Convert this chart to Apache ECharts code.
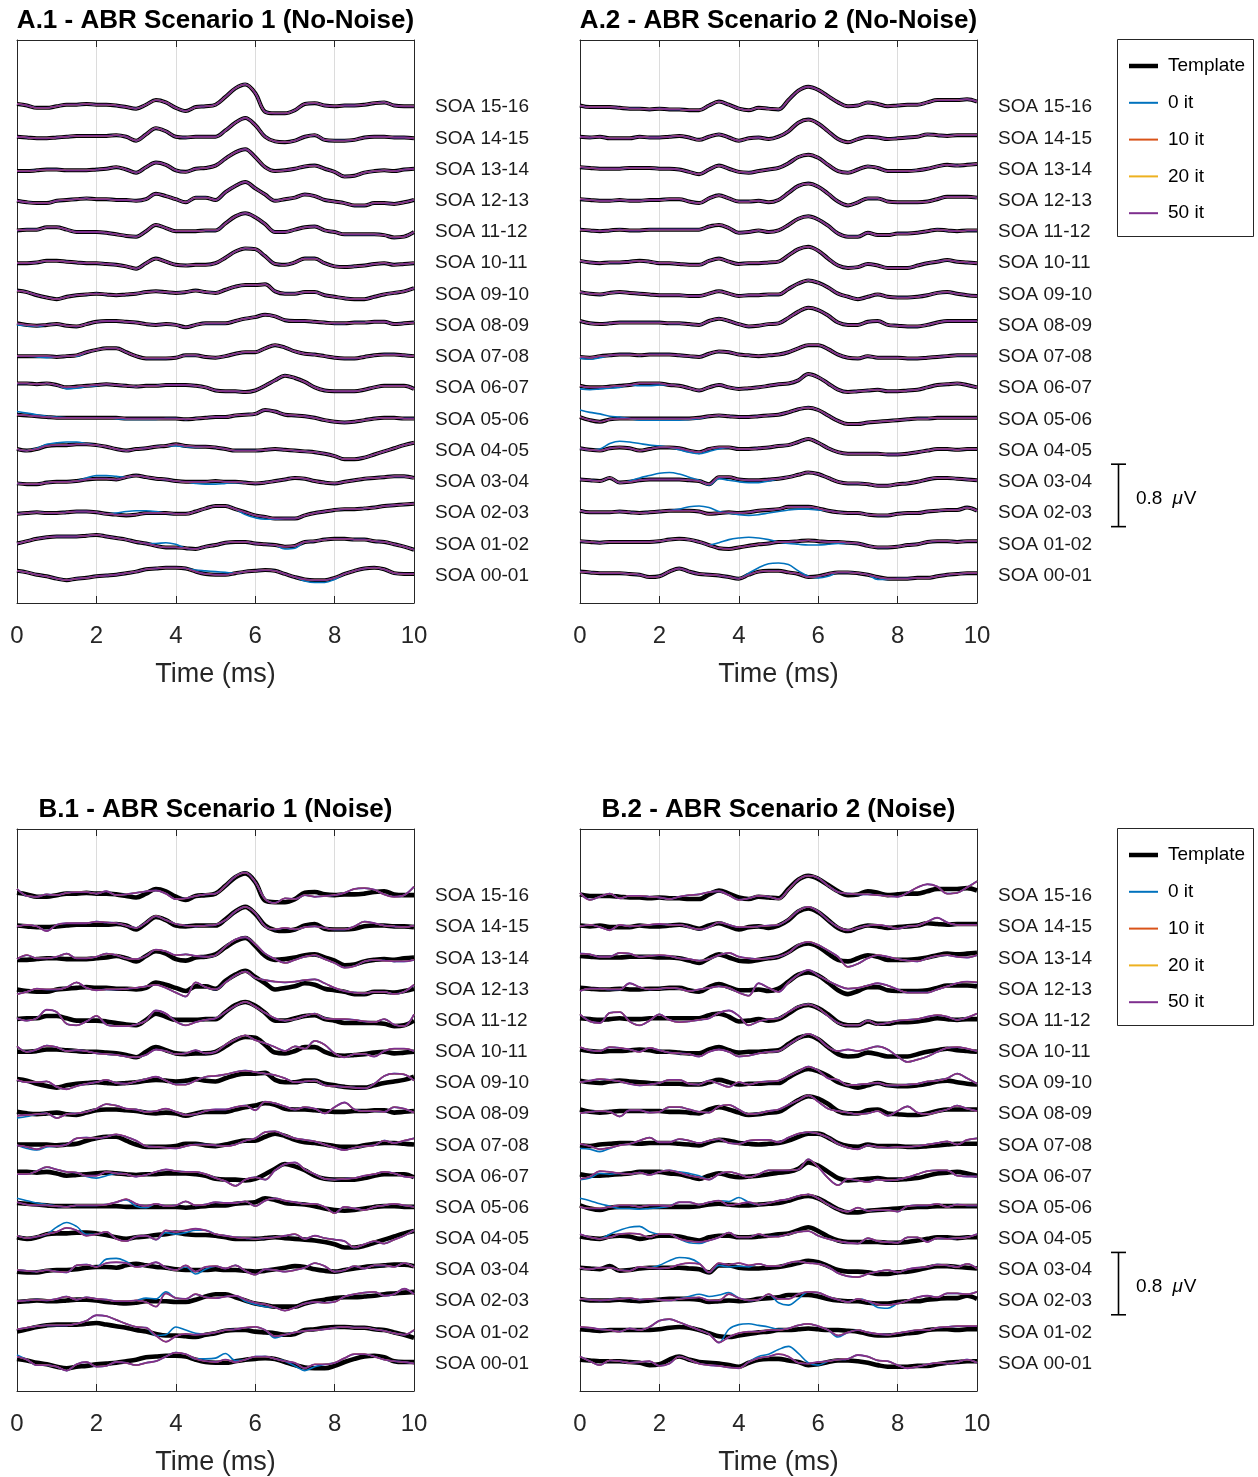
<!DOCTYPE html>
<html><head><meta charset="utf-8">
<script src="https://cdn.jsdelivr.net/npm/echarts/dist/echarts.min.js"></script>
<style>html,body{margin:0;padding:0;background:#fff}#c{width:1258px;height:1477px}</style>
</head><body><div id="c"></div>
<script>
// ---------------- DATA ----------------
// sample times (ms)
const times = [0,0.25,0.5,0.75,1,1.25,1.5,1.75,2,2.25,2.5,2.75,3,3.25,3.5,3.75,4,4.25,4.5,4.75,5,5.25,5.5,5.75,6,6.25,6.5,6.75,7,7.25,7.5,7.75,8,8.25,8.5,8.75,9,9.25,9.5,9.75,10];
const soaLabels = ['SOA 00-01','SOA 01-02','SOA 02-03','SOA 03-04','SOA 04-05','SOA 05-06','SOA 06-07','SOA 07-08','SOA 08-09','SOA 09-10','SOA 10-11','SOA 11-12','SOA 12-13','SOA 13-14','SOA 14-15','SOA 15-16'];
const traceStep = 0.4;      // µV vertical offset between SOA traces
const yMin = -0.352, yMax = 6.859; // µV range of each panel
const scaleBarFrom = 0.626; // µV
const scaleBarSpan = 0.8;   // µV
const seriesNames = ['Template','0 it','10 it','20 it','50 it'];

// waveform values in 1/100 µV, index = SOA (0 = 00-01)
const tmplS1 = [
[6,4,1,-1,-4,-6,-4,-3,-1,0,1,3,5,8,9,10,10,9,5,2,1,1,3,5,6,7,6,2,-2,-5,-6,-6,-3,2,6,9,10,8,3,2,2],
[1,4,7,9,10,10,10,11,12,10,8,6,3,1,-2,-4,-4,-5,-6,-3,-1,2,3,3,1,0,-1,-3,-2,3,4,6,7,7,6,6,4,3,0,-3,-7],
[-1,0,1,0,0,1,2,2,1,-1,-2,-3,-2,0,0,0,-1,-1,2,6,9,9,5,1,-3,-5,-7,-7,-7,-3,0,2,4,5,5,6,7,9,10,11,12],
[-2,-3,-3,-1,0,0,1,3,4,4,3,6,8,6,4,3,1,0,0,0,1,0,0,-1,-2,-1,1,3,5,4,1,-1,-2,0,2,4,5,6,7,7,5],
[2,0,2,6,7,7,8,8,7,5,2,0,2,3,5,6,8,6,5,5,4,2,0,0,0,1,2,1,0,-1,-2,-4,-7,-11,-11,-9,-5,-1,3,7,10],
[6,5,4,3,2,2,2,2,2,2,2,1,1,1,1,1,1,0,1,2,3,3,5,6,7,12,10,6,5,4,2,-1,-3,-4,-3,-1,1,2,2,1,1],
[6,6,5,6,4,1,2,3,4,5,4,3,2,3,3,4,4,4,3,1,-3,-4,-4,-5,-3,3,10,16,13,8,1,-3,-4,-4,-4,-2,1,3,3,3,-1],
[1,1,1,1,0,1,2,6,9,11,11,6,1,-2,-2,-2,-1,2,2,0,-1,1,4,6,6,11,15,12,7,4,3,1,-1,-2,-2,0,2,3,3,2,1],
[3,1,0,1,2,0,-1,2,5,6,6,5,4,2,1,2,1,-2,1,3,3,3,6,9,11,14,12,7,6,6,5,4,3,3,4,4,5,5,2,3,4],
[5,3,-1,-4,-6,-3,-1,0,1,0,-1,0,1,3,4,3,2,3,5,3,2,6,10,12,12,13,4,1,1,3,3,-1,-3,-5,-6,-6,-3,0,2,4,8],
[0,0,1,3,3,2,1,0,0,-1,-2,-4,-7,0,6,2,-2,-3,-2,-2,0,7,15,19,18,9,-1,-2,1,6,6,0,-4,-5,-4,-3,-1,0,-2,-1,0],
[2,3,3,6,6,3,0,0,0,-1,-3,-5,-6,1,9,5,1,1,1,2,2,11,20,24,19,10,0,0,3,6,7,2,0,-3,-3,-3,-3,-4,-7,-6,0],
[0,-2,-3,-3,0,1,2,3,2,2,1,1,0,2,9,6,2,-2,4,4,1,11,19,24,16,8,0,2,4,8,6,1,-1,-3,-6,-6,-3,-3,-4,-2,1],
[-2,-2,-1,0,0,-1,-1,-1,0,1,3,0,-4,3,9,6,-1,-3,1,2,5,14,22,26,16,3,-2,-1,1,4,5,1,-3,-9,-8,-4,-2,-1,-2,0,1],
[2,1,0,0,1,2,3,3,3,3,4,2,-3,5,13,9,2,1,2,2,2,10,20,26,17,2,-4,-5,-3,2,4,-2,-3,-3,-2,1,2,2,1,1,0],
[4,2,-1,-1,1,3,3,4,3,3,2,0,-2,3,9,6,-1,-5,0,1,3,13,24,29,18,-6,-8,-8,-4,4,5,2,1,2,2,3,5,6,2,1,1]
];
const tmplS2 = [
[5,4,3,3,3,2,1,-2,-1,5,9,5,2,1,0,-2,-4,1,5,6,6,4,2,-2,-1,2,4,4,3,1,-2,-4,-4,-4,-3,-3,-1,1,2,3,3],
[4,3,2,3,3,3,3,3,4,6,7,6,3,-1,-5,-6,-4,-2,0,1,3,3,4,5,4,3,3,2,1,-2,-4,-4,-3,-1,0,3,4,4,3,4,4],
[3,1,1,1,2,1,0,1,2,3,3,3,2,-1,0,1,0,1,3,4,5,8,8,8,6,3,1,0,0,-2,-3,-3,-1,0,0,2,3,4,4,7,3],
[3,2,1,5,-1,0,2,3,3,3,3,2,1,-3,6,6,3,2,2,3,4,6,9,12,10,5,0,-2,-2,-3,-5,-5,-3,-2,0,3,5,5,4,3,2],
[3,1,0,3,4,3,0,2,4,4,3,0,-2,2,4,4,2,2,3,4,6,7,11,15,10,3,-2,-4,-4,-4,-4,-5,-5,-4,-2,0,2,2,1,2,2],
[3,-1,-3,0,1,1,1,1,1,1,1,1,2,4,5,4,3,3,4,5,6,9,13,15,12,5,-2,-6,-6,-4,-3,-2,-1,0,1,1,2,2,2,2,2],
[3,1,1,2,3,4,6,6,6,4,3,0,-3,1,4,1,-1,0,1,3,5,6,10,18,14,6,-2,-5,-4,-3,-2,-4,-4,-3,-2,1,4,5,6,4,1],
[0,-1,1,2,3,3,2,3,3,3,2,1,0,4,7,6,3,2,1,2,3,6,11,15,15,10,3,-1,-2,1,-1,-1,-1,-2,-2,-1,0,1,2,2,2],
[6,3,2,3,4,4,4,4,4,3,3,2,1,6,9,6,2,-1,0,2,3,10,18,23,20,13,4,1,1,5,6,1,0,-1,-1,1,4,6,6,6,6],
[3,1,0,2,3,2,1,0,-1,-1,-1,-2,-2,1,4,1,-2,-1,-1,0,0,7,14,18,15,9,1,-3,-6,-3,0,-3,-4,-4,-3,-1,2,3,1,-1,-2],
[3,1,0,1,1,2,3,2,0,0,-1,-2,-2,3,6,2,-1,0,0,1,2,10,18,21,16,6,-3,-6,-5,-1,-3,-6,-6,-6,-3,0,2,4,2,1,0],
[3,2,1,2,3,2,2,3,3,3,3,3,3,7,9,5,-1,0,2,0,2,9,17,20,16,8,-2,-6,-6,-1,-4,-4,-2,-2,-1,1,3,2,1,2,2],
[2,1,0,0,1,0,0,1,1,2,2,-1,-3,3,7,3,-1,-1,0,-2,1,10,19,22,18,9,-1,-6,-2,3,3,-1,-2,-2,-2,-1,2,5,5,5,4],
[3,2,1,1,1,2,2,2,1,1,0,-3,-6,0,5,1,-3,-4,-2,0,2,8,16,19,15,6,-2,-4,0,4,2,-2,-2,-2,-1,1,4,6,5,6,7],
[2,1,2,0,0,0,2,1,1,2,3,1,-2,2,5,1,-3,0,1,-1,2,9,20,24,19,9,-1,-5,-1,2,1,-1,0,1,2,5,4,3,4,4,4],
[2,0,0,0,-1,-2,-2,-3,-2,-3,-3,-4,-4,2,7,3,-2,-4,-1,-2,-3,9,21,26,22,14,6,1,2,6,4,1,2,3,3,6,9,9,9,10,7]
];
const noiseS1 = [
[9,5,-2,-2,-4,-9,-1,2,-4,-3,2,1,-2,1,3,9,14,12,6,3,2,5,2,5,9,9,6,3,1,-6,-1,-1,1,7,12,12,9,5,3,2,0],
[4,6,8,9,9,9,11,15,22,21,16,11,7,6,-4,-12,-5,-2,-3,-2,0,3,4,6,7,3,-5,-3,0,2,3,4,6,7,6,6,4,2,-1,-3,3],
[0,1,2,1,3,6,2,5,3,2,0,0,1,-1,-7,10,4,3,9,5,4,6,7,2,-2,-4,-8,-12,-8,-3,-1,-2,-1,6,9,11,12,7,9,16,9],
[0,-1,-2,0,-2,-3,6,7,4,9,10,9,4,6,10,3,0,6,-2,4,5,2,6,-1,-6,1,0,-2,0,3,9,5,-2,0,5,2,6,6,4,9,4],
[4,1,3,6,9,14,11,4,6,9,0,-3,3,4,-1,11,9,11,13,11,6,4,2,1,0,1,2,4,6,0,4,1,-1,-3,-11,-7,-3,-6,-1,4,11],
[7,4,3,3,2,1,3,3,3,4,7,11,5,2,5,2,3,8,3,4,7,6,6,8,2,9,12,9,7,5,5,1,-7,1,-1,-3,1,3,5,3,1],
[3,3,7,12,9,6,5,1,1,6,4,3,0,2,6,9,7,6,6,3,-2,-6,-12,-4,-1,-4,8,16,18,9,3,-3,-4,-3,-2,1,3,6,4,0,-1],
[0,-2,-5,-1,-1,1,9,10,9,11,14,11,6,-1,-2,-3,-4,-1,1,1,0,-1,1,6,9,17,18,13,9,7,5,1,-3,-6,-3,-1,0,6,3,6,9],
[-2,-1,0,1,-5,0,1,3,7,13,11,7,6,3,4,7,3,-1,0,4,6,6,9,11,5,16,14,10,6,9,7,1,9,15,6,4,4,3,9,7,2],
[4,1,1,2,-5,-8,-4,-1,1,4,0,-1,2,5,8,3,-2,-2,3,8,9,11,14,16,14,12,10,6,1,2,3,-3,-4,-5,-6,-7,-1,9,12,11,3],
[7,0,3,8,6,1,2,1,-2,-3,-4,-6,-7,-4,3,1,-3,-2,2,-2,0,9,16,21,15,11,6,1,7,4,14,9,-2,-7,-3,-3,-6,1,4,4,1],
[3,0,3,14,11,-4,-6,-1,6,-5,-7,-7,-5,0,13,9,-1,-6,-2,1,3,11,19,24,18,10,3,0,2,6,9,3,2,2,1,-1,-2,2,-5,-7,8],
[-6,-3,1,0,0,3,9,2,-1,0,0,1,2,4,6,2,-4,-9,9,3,0,9,18,23,15,12,10,9,10,12,13,8,2,-2,-4,-5,-3,-3,-6,-3,6],
[-1,4,0,0,2,6,0,0,2,6,4,0,-1,3,11,9,4,5,3,2,4,15,24,27,18,6,-1,-6,-2,2,4,-1,-6,-12,-10,-4,-2,-3,-4,-4,-2],
[1,3,1,-5,3,5,5,5,7,6,5,2,-1,6,14,9,4,2,1,2,3,9,20,26,18,1,-3,-1,-3,0,1,-1,-3,-3,1,7,5,2,1,0,2],
[9,0,-1,2,1,4,5,5,3,6,1,2,4,6,7,3,-4,-3,0,2,3,13,25,30,18,-4,-9,-3,-4,1,-1,0,1,4,9,10,8,2,-1,1,12]
];
const noiseS2 = [
[9,3,-2,4,3,1,2,3,-3,0,9,5,0,-2,-3,-5,-6,2,7,9,12,9,1,0,2,3,5,6,11,9,4,3,-2,-6,-4,-1,1,0,2,5,1],
[7,6,4,3,1,5,3,7,15,17,13,8,3,-2,-13,-6,-1,1,1,3,3,5,9,11,8,3,-4,0,3,0,-2,-3,-1,1,3,3,6,7,8,8,8],
[3,2,1,2,3,4,2,3,2,1,3,4,5,1,1,9,4,1,2,9,3,3,9,12,11,6,2,-1,3,0,-4,-5,-3,1,5,7,5,10,10,9,12],
[3,1,3,3,0,-1,4,3,2,3,7,9,8,-3,9,7,9,6,8,5,5,9,11,9,8,4,-4,-8,-9,-5,-2,0,-3,1,3,4,7,6,4,8,2],
[6,2,0,2,6,7,6,2,6,6,0,-3,-4,-2,2,8,2,2,6,3,3,6,9,10,4,0,-3,-5,-6,1,-3,-4,-5,2,2,-4,1,0,1,2,6],
[1,-1,-1,1,3,3,1,3,3,2,7,7,4,7,9,3,5,7,4,6,9,11,15,17,12,4,-2,-5,0,-4,-3,-3,-5,2,3,3,5,1,4,3,3],
[-3,0,7,6,4,3,5,2,6,8,5,1,-1,-4,3,6,3,-1,3,8,8,8,9,22,12,-2,-11,-3,-5,-7,-4,-5,-4,-1,3,7,8,8,1,0,0],
[2,-1,-5,-3,0,2,6,10,4,4,8,6,3,6,8,3,2,6,7,7,4,10,15,17,15,10,2,-3,-5,0,-2,-3,-2,-2,-1,1,3,5,1,7,9],
[1,3,4,3,-3,5,5,2,3,9,9,6,3,2,10,12,6,0,1,4,6,12,18,24,16,7,4,2,0,1,4,-2,4,10,2,0,3,6,11,7,4],
[1,3,5,4,2,-1,-3,-2,0,4,4,-1,-2,3,-1,-5,1,-2,1,2,3,9,15,21,16,6,4,-3,-2,-1,0,-3,-3,-2,-1,2,3,6,12,6,-1],
[6,2,1,6,5,3,0,5,2,-1,-2,-3,-6,0,3,0,-6,-5,-2,0,1,9,17,23,17,6,1,3,1,4,7,3,-6,-13,-10,-6,0,5,6,4,1],
[8,-1,-3,10,11,-1,-6,0,8,1,-2,-1,1,3,10,13,6,-6,-1,2,3,11,18,21,16,6,-3,-6,-6,0,-5,-3,0,1,2,5,7,5,1,4,9],
[-2,1,1,0,0,8,3,0,1,2,1,-2,0,2,4,2,-4,-8,8,2,-3,9,19,25,18,11,5,1,2,5,8,5,0,-4,-4,-4,0,4,8,10,9],
[6,5,2,2,7,6,2,3,4,3,0,-1,-3,-1,4,7,2,0,-1,0,2,7,17,21,17,10,2,-11,-7,0,4,2,-1,-3,-4,0,3,4,2,1,4],
[1,3,0,-4,3,1,2,3,4,3,3,0,-3,0,6,3,0,0,1,2,3,10,21,26,20,9,0,-4,-1,2,3,1,-2,1,2,7,12,6,3,3,3],
[4,-5,-1,3,-3,0,0,-1,-2,-4,-1,1,2,5,6,1,-5,-3,0,-1,-4,8,21,26,23,13,5,3,2,2,1,0,-1,4,11,15,12,3,4,11,19]
];
// "0 it" segments that differ from the converged traces: {soa: [[startSampleIndex, values...], ...]}
const it0DiffA1 = {0:[[18,7,6,5,4,3],[29,-7,-9,-9,-5]],1:[[14,1,2,0],[27,-6,-5]],2:[[10,0,2,3,3,2],[23,-2,-6,-8,-8]],3:[[7,5,8,8,7,6],[18,-2,-3,-3,-2,-1]],4:[[2,3,8,10,11,11,9],[16,6,5,4]],5:[[0,10,8,6,4,3],[10,1,0,0,0,0]],6:[[5,-1,0,2,3]],7:[[2,0,-1,0,1,1]],8:[[0,1,0,-1]]};
const it0DiffA2 = {0:[[17,3,10,15,16,14,6,-1,-3,-1],[30,-5,-5]],1:[[13,-1,2,6,8,9,8,6,3,1,0,-1,-1,0,1,1]],2:[[9,3,5,8,9,7,2,0,-2,-3,-2,0,2,4,5,5,4]],3:[[5,1,5,8,11,12,10,6,2,-4,4,2,0,-1,-1,1]],4:[[2,2,9,12,11,9,7,6,4,1,-2,-4,-1,2]],5:[[0,12,9,7,4,3,1,-1,-1,-1,-1,-1,0,1]],6:[[0,-1,-2,-1,0,1],[6,3,3,4]],7:[[0,-2,-3,-1]]};
const it0DiffB1 = {0:[[0,11],[19,6,7,13,4],[28,-3,-9,-4]],1:[[15,-3,7,3,-1],[26,-7]],2:[[13,4,3,12],[23,0,-4,-7]],3:[[9,14,15,11],[17,4,-5,1]],4:[[4,15,21,16,6],[15,8,6,8,11]],5:[[0,12,9,6,4],[11,10,2,0]],6:[[7,0,-2,1]],7:[[1,-4,-6,-2]],8:[[0,-5,-3,0]]};
const it0DiffB2 = {0:[[18,9,12,18,22,13,1,-2]],1:[[15,4,10,11,9,7,4],[26,-6]],2:[[11,6,9,6,8,11],[20,-2,-5,3],[30,-8,-9]],3:[[8,6,12,16,15,9],[14,6,4,5,4]],4:[[3,6,11,15,16,9],[11,-5,-6]],5:[[0,12,9,5,2,-1,-1,-2,-1,0],[14,9,8,13,7]],6:[[0,-4,-2,4,3],[10,6,4,1]],7:[[0,-4,-5,-8,-4]]};

// ---------------- CHART ----------------
const FONT = '"Liberation Sans", Arial, Helvetica, sans-serif';
const AX = '#262626';
const colors = {'Template':'#000000','0 it':'#0072BD','10 it':'#D95319','20 it':'#EDB120','50 it':'#7E2F8E'};
const widths = {'0 it':1.6,'10 it':1.2,'20 it':1.2,'50 it':1.8};

const panels = [
  {title:'A.1 - ABR Scenario 1 (No-Noise)', tmpl:tmplS1, rec:tmplS1, diff:it0DiffA1, tw:4},
  {title:'A.2 - ABR Scenario 2 (No-Noise)', tmpl:tmplS2, rec:tmplS2, diff:it0DiffA2, tw:4},
  {title:'B.1 - ABR Scenario 1 (Noise)',    tmpl:tmplS1, rec:noiseS1, diff:it0DiffB1, tw:4.6},
  {title:'B.2 - ABR Scenario 2 (Noise)',    tmpl:tmplS2, rec:noiseS2, diff:it0DiffB2, tw:4.6}
];
const grids = [
  {left:17, top:40, width:397, height:563},
  {left:580, top:40, width:397, height:563},
  {left:17, top:829, width:397, height:563},
  {left:580, top:829, width:397, height:563}
];

function pts(vals, k){ return times.map((t,i)=>[t, k*traceStep + vals[i]/100]); }
function withDiff(vals, segs){
  const out = vals.slice();
  (segs||[]).forEach(s=>{ for(let j=1;j<s.length;j++) out[s[0]+j-1] = s[j]; });
  return out;
}
const labelValues = soaLabels.map((_,k)=>k*traceStep);

const xAxis = [], yAxis = [], series = [];
grids.forEach((g,p)=>{
  xAxis.push({type:'value', gridIndex:p, min:0, max:10, interval:2, position:'bottom',
    axisLine:{show:true, onZero:false, lineStyle:{color:AX, width:1}},
    axisTick:{show:true, inside:true, length:7, lineStyle:{color:AX}},
    axisLabel:{show:true, fontSize:24, color:AX, fontFamily:FONT, margin:21},
    splitLine:{show:true, lineStyle:{color:'#dcdcdc', width:1}},
    name:'Time (ms)', nameLocation:'middle', nameGap:58,
    nameTextStyle:{fontSize:27, color:AX, fontFamily:FONT}});
  xAxis.push({type:'value', gridIndex:p, min:0, max:10, interval:2, position:'top',
    axisLine:{show:true, onZero:false, lineStyle:{color:AX, width:1}},
    axisTick:{show:true, inside:true, length:7, lineStyle:{color:AX}},
    axisLabel:{show:false}, splitLine:{show:false}});
  yAxis.push({type:'value', gridIndex:p, min:yMin, max:yMax, position:'right',
    axisLine:{show:true, onZero:false, lineStyle:{color:AX, width:1}},
    axisTick:{show:false}, splitLine:{show:false},
    axisLabel:{show:true, customValues:labelValues, margin:21, fontSize:19, color:'#1a1a1a', fontFamily:FONT,
      formatter:v=>{ const k=Math.round(v/traceStep); return (Math.abs(v-k*traceStep)<1e-6 && k>=0 && k<soaLabels.length) ? soaLabels[k] : ''; }}});
  yAxis.push({type:'value', gridIndex:p, min:yMin, max:yMax, position:'left',
    axisLine:{show:true, onZero:false, lineStyle:{color:AX, width:1}},
    axisTick:{show:false}, axisLabel:{show:false}, splitLine:{show:false}});

  const pn = panels[p];
  const base = {type:'line', xAxisIndex:p*2, yAxisIndex:p*2, showSymbol:false, symbol:'none',
    smooth:0.35, silent:true, animation:false};
  for(let k=0;k<soaLabels.length;k++){
    series.push(Object.assign({}, base, {name:'Template', data:pts(pn.tmpl[k],k),
      lineStyle:{color:colors['Template'], width:pn.tw}, itemStyle:{color:colors['Template']}, z:2}));
    series.push(Object.assign({}, base, {name:'0 it', data:pts(withDiff(pn.rec[k], pn.diff[k]),k),
      lineStyle:{color:colors['0 it'], width:widths['0 it']}, itemStyle:{color:colors['0 it']}, z:3}));
    ['10 it','20 it','50 it'].forEach((nm,j)=>{
      series.push(Object.assign({}, base, {name:nm, data:pts(pn.rec[k],k),
        lineStyle:{color:colors[nm], width:widths[nm]}, itemStyle:{color:colors[nm]}, z:4+j}));
    });
  }
});

const chart = echarts.init(document.getElementById('c'), null, {renderer:'canvas', width:1258, height:1477});
chart.setOption({backgroundColor:'#ffffff', animation:false, grid:grids, xAxis, yAxis, series});

// titles, legends, scale bars
const graphic = [];
panels.forEach((pn,p)=>{
  const g = grids[p];
  graphic.push({type:'text', x:g.left+g.width/2, y:g.top-19, z:100,
    style:{text:pn.title, font:'bold 26px '+FONT, fill:'#000', align:'center', verticalAlign:'middle', textAlign:'center', textVerticalAlign:'middle'}});
});
[0,1].forEach(r=>{
  const top = grids[r*2].top;
  const children = [];
  children.push({type:'rect', shape:{x:1117.5, y:top-0.5, width:136, height:197}, style:{fill:'#fff', stroke:AX, lineWidth:1}});
  seriesNames.forEach((nm,i)=>{
    const yy = top + 26 + i*36.8;
    children.push({type:'line', shape:{x1:1129, y1:yy, x2:1158, y2:yy},
      style:{stroke:colors[nm], lineWidth: nm==='Template'?4.5:2}});
    children.push({type:'text', x:1168, y:yy, style:{text:nm, font:'19px '+FONT, fill:'#000',
      align:'left', verticalAlign:'middle', textAlign:'left', textVerticalAlign:'middle'}});
  });
  const yi = (r*2+1)*2;
  const y0 = chart.convertToPixel({yAxisIndex:yi}, scaleBarFrom);
  const y1 = chart.convertToPixel({yAxisIndex:yi}, scaleBarFrom+scaleBarSpan);
  const bx = 1118.5;
  children.push({type:'line', shape:{x1:bx, y1:y0, x2:bx, y2:y1}, style:{stroke:'#000', lineWidth:1.6}});
  children.push({type:'line', shape:{x1:bx-7.5, y1:y0, x2:bx+7.5, y2:y0}, style:{stroke:'#000', lineWidth:1.6}});
  children.push({type:'line', shape:{x1:bx-7.5, y1:y1, x2:bx+7.5, y2:y1}, style:{stroke:'#000', lineWidth:1.6}});
  children.push({type:'text', x:1136, y:(y0+y1)/2 + 3, style:{
    text:'{n|0.8}{m|μ}{v|V}', fill:'#000', align:'left', verticalAlign:'middle', textAlign:'left', textVerticalAlign:'middle',
    rich:{n:{font:'19px '+FONT, fill:'#000', padding:[0,10,0,0]}, m:{font:'italic 19px '+FONT, fill:'#000'}, v:{font:'19px '+FONT, fill:'#000', padding:[0,0,0,1]}}}});
  graphic.push({type:'group', z:100, children});
});
chart.setOption({graphic});
</script></body></html>
